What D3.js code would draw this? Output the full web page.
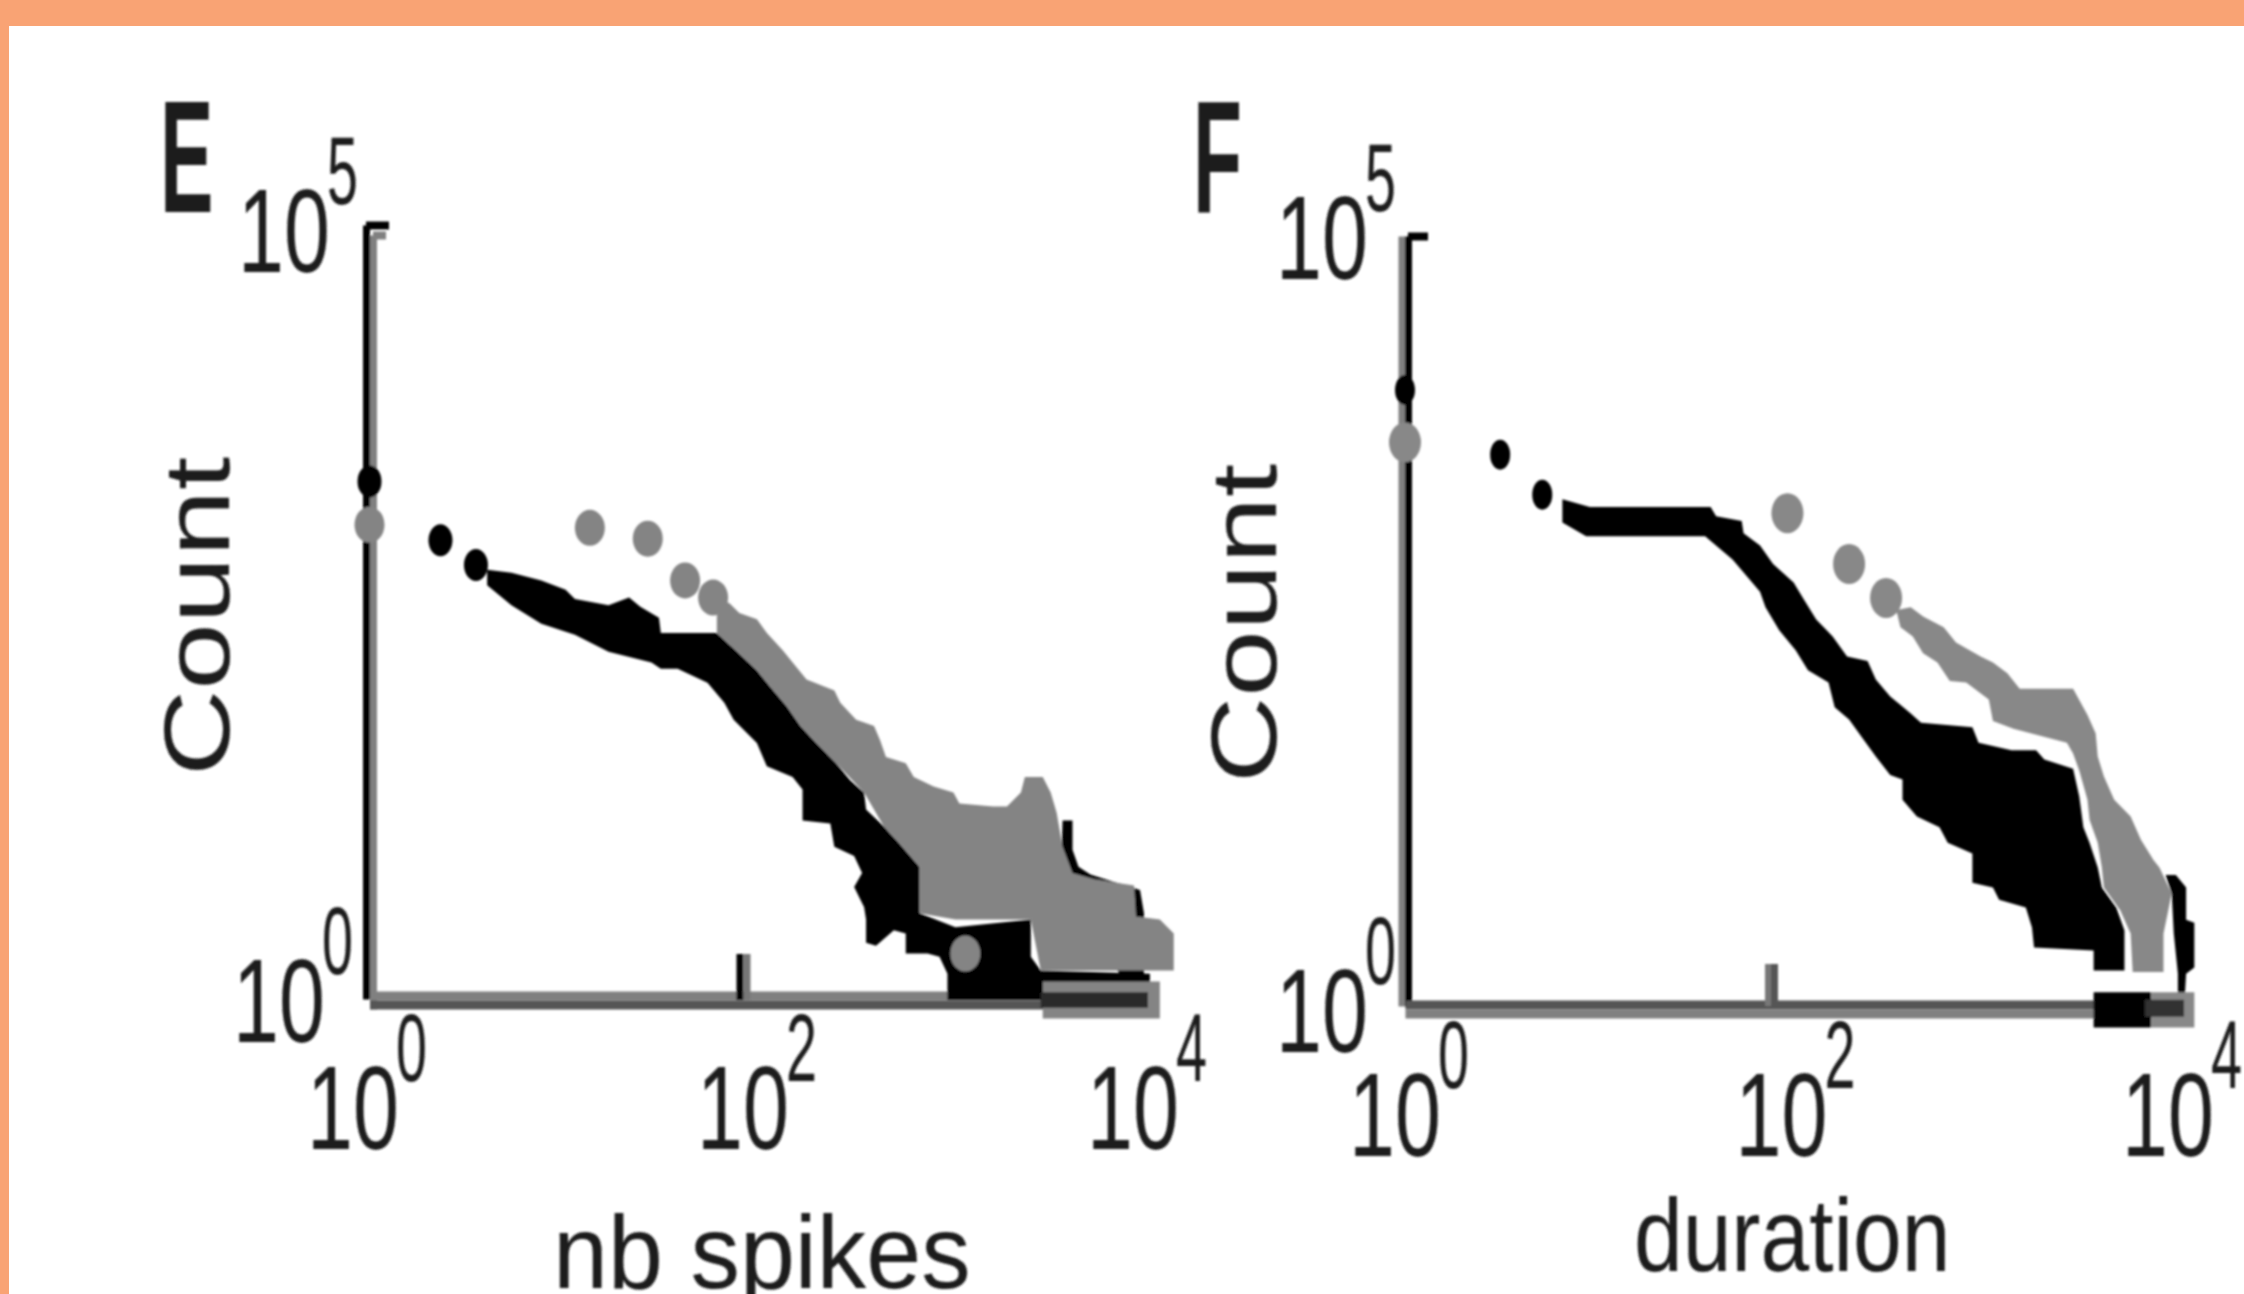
<!DOCTYPE html>
<html>
<head>
<meta charset="utf-8">
<script src="https://cdn.jsdelivr.net/npm/d3@7"></script>
<style>
html, body { margin: 0; padding: 0; background: #fff; overflow: hidden; }
svg { display: block; }
text { font-family: "Liberation Sans", sans-serif; fill: #1c1c1c; }
</style>
</head>
<body>
<svg width="2244" height="1294"></svg>
<script>
// all values are log10 of the axis value
var xTicks = [0, 2, 4];
var yTicks = [0, 5];

// panel E, nb spikes
var eBlackDotX = [0, 0.38, 0.57];
var eBlackDotY = [3.35, 2.97, 2.81];
var eGrayDotX = [0, 1.18, 1.49, 1.69, 1.84, 3.12];
var eGrayDotY = [3.07, 3.05, 2.98, 2.71, 2.60, 0.30];
var eBlackTopX = [0.63, 0.76, 0.92, 1.05, 1.10, 1.28, 1.39, 1.45, 1.55, 1.56, 1.86, 1.97, 2.07, 2.14, 2.22, 2.29, 2.37, 2.47, 2.54, 2.61, 2.62, 2.71, 2.79, 2.89, 2.89, 3.07, 3.45, 3.45, 3.50, 4.05, 4.05];
var eBlackTopY = [2.78, 2.76, 2.71, 2.65, 2.59, 2.55, 2.60, 2.54, 2.47, 2.37, 2.37, 2.25, 2.13, 2.02, 1.90, 1.77, 1.66, 1.53, 1.42, 1.34, 1.23, 1.12, 1.01, 0.86, 0.56, 0.47, 0.52, 0.28, 0.19, 0.17, 0];
var eBlackLowX = [0.63, 0.76, 0.92, 1.10, 1.28, 1.51, 1.56, 1.65, 1.81, 1.90, 1.95, 2.07, 2.12, 2.25, 2.30, 2.30, 2.44, 2.46, 2.56, 2.60, 2.56, 2.61, 2.62, 2.62, 2.67, 2.76, 2.82, 2.82, 2.93, 2.99, 3.03, 3.03];
var eBlackLowY = [2.68, 2.55, 2.43, 2.36, 2.25, 2.18, 2.14, 2.14, 2.05, 1.92, 1.81, 1.66, 1.51, 1.44, 1.36, 1.16, 1.14, 0.99, 0.93, 0.82, 0.73, 0.60, 0.52, 0.37, 0.35, 0.45, 0.43, 0.30, 0.30, 0.28, 0.17, 0];
var eBlackTailX = [3.61, 3.66, 3.66, 3.69, 3.75, 4.00, 4.02, 4.02, 3.98, 3.60];
var eBlackTailY = [1.16, 1.16, 0.97, 0.86, 0.81, 0.71, 0.56, 0, 0, 0.78];
var eGrayX = [1.86, 1.90, 1.93, 1.98, 2.07, 2.12, 2.20, 2.25, 2.32, 2.46, 2.49, 2.57, 2.66, 2.69, 2.72, 2.82, 2.86, 2.96, 3.06, 3.09, 3.26, 3.33, 3.40, 3.42, 3.51, 3.55, 3.58, 3.61, 3.66, 3.77, 3.97, 3.98, 4.10, 4.17, 4.17, 3.50, 3.45, 3.07, 2.89, 2.89, 2.79, 2.71, 2.61, 2.47, 2.37, 2.29, 2.22, 2.14, 2.07, 1.97, 1.86];
var eGrayY = [2.48, 2.58, 2.56, 2.50, 2.46, 2.37, 2.26, 2.18, 2.07, 2.00, 1.92, 1.81, 1.77, 1.68, 1.57, 1.53, 1.44, 1.38, 1.34, 1.27, 1.25, 1.25, 1.34, 1.44, 1.44, 1.34, 1.21, 0.99, 0.82, 0.78, 0.74, 0.54, 0.52, 0.43, 0.19, 0.19, 0.52, 0.52, 0.56, 0.86, 1.01, 1.12, 1.34, 1.53, 1.66, 1.77, 1.90, 2.02, 2.13, 2.25, 2.37];
var eGrayStripX = [3.51, 4.10, 4.10, 3.51];
var eGrayStripY = [0.12, 0.12, -0.12, -0.12];
var eDarkStripX = [3.50, 4.04, 4.04, 3.50];
var eDarkStripY = [0.05, 0.05, -0.05, -0.05];

// panel F, duration
var fBlackDotX = [0, 0.52, 0.75];
var fBlackDotY = [4.00, 3.58, 3.32];
var fGrayDotX = [0, 2.08, 2.38, 2.56];
var fGrayDotY = [3.66, 3.20, 2.87, 2.65];
var fBlackTopX = [0.86, 1.01, 1.31, 1.67, 1.70, 1.84, 1.85, 1.94, 2.01, 2.11, 2.16, 2.22, 2.30, 2.37, 2.47, 2.51, 2.58, 2.68, 2.73, 2.98, 3.01, 3.17, 3.29, 3.33, 3.47, 3.50, 3.52, 3.55, 3.59, 3.61, 3.68, 3.72, 3.72];
var fBlackTopY = [3.29, 3.24, 3.24, 3.24, 3.18, 3.15, 3.07, 2.99, 2.87, 2.75, 2.64, 2.51, 2.40, 2.27, 2.24, 2.12, 2.01, 1.90, 1.84, 1.81, 1.71, 1.66, 1.66, 1.60, 1.54, 1.36, 1.16, 1.06, 0.90, 0.77, 0.64, 0.49, 0.23];
var fBlackLowX = [0.86, 0.99, 1.64, 1.79, 1.94, 1.97, 2.04, 2.12, 2.18, 2.28, 2.31, 2.38, 2.45, 2.51, 2.58, 2.64, 2.64, 2.71, 2.82, 2.86, 2.98, 2.98, 3.08, 3.11, 3.24, 3.27, 3.28, 3.57, 3.57];
var fBlackLowY = [3.14, 3.05, 3.05, 2.90, 2.69, 2.59, 2.44, 2.31, 2.18, 2.10, 1.94, 1.86, 1.73, 1.62, 1.50, 1.47, 1.34, 1.23, 1.16, 1.06, 0.99, 0.80, 0.77, 0.69, 0.64, 0.51, 0.38, 0.36, 0.23];
var fBlackTailX = [3.92, 3.97, 4.02, 4.02, 4.06, 4.06, 4.02, 4.01, 3.98, 3.98, 3.96, 3.95];
var fBlackTailY = [0.85, 0.85, 0.77, 0.56, 0.54, 0.25, 0.21, -0.02, -0.02, 0.21, 0.47, 0.73];
var fGrayX = [2.61, 2.68, 2.74, 2.84, 2.90, 3.02, 3.08, 3.15, 3.21, 3.47, 3.54, 3.58, 3.59, 3.62, 3.67, 3.75, 3.80, 3.86, 3.89, 3.95, 3.91, 3.91, 3.76, 3.75, 3.70, 3.62, 3.61, 3.59, 3.55, 3.54, 3.50, 3.47, 3.44, 3.18, 3.08, 3.06, 2.95, 2.87, 2.81, 2.74, 2.69, 2.63];
var fGrayY = [2.57, 2.59, 2.53, 2.46, 2.36, 2.27, 2.23, 2.16, 2.06, 2.06, 1.89, 1.77, 1.62, 1.49, 1.34, 1.23, 1.08, 0.95, 0.90, 0.73, 0.47, 0.22, 0.22, 0.47, 0.62, 0.77, 0.90, 1.06, 1.21, 1.34, 1.53, 1.64, 1.71, 1.80, 1.85, 1.99, 2.10, 2.11, 2.23, 2.29, 2.40, 2.46];
var fBlackStripX = [3.57, 3.85, 3.85, 3.57];
var fBlackStripY = [0.09, 0.09, -0.14, -0.14];
var fGrayStripX = [3.85, 4.06, 4.06, 3.85];
var fGrayStripY = [0.09, 0.09, -0.14, -0.14];
var fDarkStripX = [3.82, 4.01, 4.01, 3.82];
var fDarkStripY = [0.04, 0.04, -0.07, -0.07];

var svg = d3.select("svg");
svg.append("rect").attr("width", 2244).attr("height", 1294).attr("fill", "#f9a374");
svg.append("rect").attr("x", 9).attr("y", 26).attr("width", 2235).attr("height", 1268).attr("fill", "#fff");

var defs = svg.append("defs");
defs.append("filter").attr("id", "soft").attr("x", 0).attr("y", 0)
    .attr("filterUnits", "userSpaceOnUse").attr("width", 2244).attr("height", 1294)
    .append("feGaussianBlur").attr("stdDeviation", 1.3);
var root = svg.append("g").attr("filter", "url(#soft)");

function zip(xs, ys) {
    return xs.map(function (d, i) { return [d, ys[i]]; });
}

function shape(x, y, pts, color) {
    var line = d3.line().x(function (d) { return x(d[0]); }).y(function (d) { return y(d[1]); });
    root.append("path").attr("d", line(pts) + "Z").attr("fill", color);
}

function dots(x, y, xs, ys, color, rx, ry) {
    root.append("g").selectAll("ellipse").data(zip(xs, ys)).join("ellipse")
        .attr("cx", function (d) { return x(d[0]); })
        .attr("cy", function (d) { return y(d[1]); })
        .attr("rx", rx).attr("ry", ry).attr("fill", color);
}

function xLayer(x, yPos, color, ticks, tickLen, dx, tickColor) {
    var g = root.append("g").attr("transform", "translate(" + dx + "," + yPos + ")")
        .call(d3.axisBottom(x).tickValues(ticks).tickFormat("").tickSizeInner(-tickLen).tickSizeOuter(0));
    g.select(".domain").attr("stroke", color).attr("stroke-width", 9);
    g.selectAll(".tick line").attr("stroke", tickColor).attr("stroke-width", 7);
}

function yLayer(y, xPos, dy, color, capLen) {
    var g = root.append("g").attr("transform", "translate(" + xPos + "," + dy + ")")
        .call(d3.axisLeft(y).tickValues([5]).tickFormat("").tickSizeInner(-capLen).tickSizeOuter(0));
    g.select(".domain").attr("stroke", color).attr("stroke-width", 7);
    g.selectAll(".tick line").attr("stroke", color).attr("stroke-width", 8);
}

function squeezed(str, px, py, size, sx, weight, rotate) {
    return root.append("text").text(str)
        .attr("font-size", size)
        .attr("font-weight", weight || "normal")
        .attr("transform", "translate(" + px + "," + py + ")" + (rotate ? " rotate(-90)" : "") + " scale(" + sx + ",1)");
}

function power(px, py, exp) {
    squeezed("10", px - 3, py, 118, 0.7);
    squeezed(String(exp), px + 86, py - 68, 96, 0.58);
}

// panel E
var xE = d3.scaleLinear().domain(xTicks).range([369.5, 743, 1140]);
var yE = d3.scaleLinear().domain(yTicks).range([1000, 226]);
var xLabelE = d3.scaleLinear().domain([0, 4]).range([310, 1090]);

yLayer(yE, 373, 9, "#808080", 13);
yLayer(yE, 366, -1, "#000", 23);
xLayer(xE, 995.5, "#808080", [], 0, 0, "#808080");
xLayer(xE, 1004.5, "#555", [], 0, 0, "#555");
xLayer(xE, 1000, "none", [2], 46, -3.5, "#000");
xLayer(xE, 1000, "none", [2], 46, 3.5, "#777");
xLayer(xE, 1000, "none", [4], 46, -1, "#000");

shape(xE, yE, zip(eBlackTailX, eBlackTailY), "#000");
shape(xE, yE, zip(eBlackTopX, eBlackTopY).concat(zip(eBlackLowX, eBlackLowY).reverse()), "#000");
shape(xE, yE, zip(eGrayX, eGrayY), "#848484");
shape(xE, yE, zip(eGrayStripX, eGrayStripY), "#848484");
shape(xE, yE, zip(eDarkStripX, eDarkStripY), "#2a2a2a");
dots(xE, yE, eGrayDotX, eGrayDotY, "#848484", 15, 18);
dots(xE, yE, eBlackDotX, eBlackDotY, "#000", 12, 16);

xTicks.forEach(function (d) { power(xLabelE(d), 1149, d); });
power(241, yE(5) + 46, 5);
power(236, yE(0) + 42, 0);
squeezed("E", 160, 212, 160, 0.5, "bold");
squeezed("Count", 229, 776, 92, 1.3, "normal", true);
squeezed("nb spikes", 553, 1288, 103, 0.96);

// panel F
var xF = d3.scaleLinear().domain(xTicks).range([1405, 1771, 2182]);
var yF = d3.scaleLinear().domain(yTicks).range([1006, 236]);
var xLabelF = d3.scaleLinear().domain([0, 4]).range([1352, 2125]);

yLayer(yF, 1401.5, 0, "#808080", 0);
yLayer(yF, 1408, 0, "#000", 20);
xLayer(xF, 1004.5, "#555", [], 0, 0, "#555");
xLayer(xF, 1013.5, "#808080", [], 0, 0, "#808080");
xLayer(xF, 1006, "none", [2], 42, -3, "#777");
xLayer(xF, 1006, "none", [2], 42, 3, "#555");

shape(xF, yF, zip(fGrayX, fGrayY), "#888");
shape(xF, yF, zip(fBlackTailX, fBlackTailY), "#000");
shape(xF, yF, zip(fBlackTopX, fBlackTopY).concat(zip(fBlackLowX, fBlackLowY).reverse()), "#000");
shape(xF, yF, zip(fBlackStripX, fBlackStripY), "#000");
shape(xF, yF, zip(fGrayStripX, fGrayStripY), "#888");
shape(xF, yF, zip(fDarkStripX, fDarkStripY), "#333");
dots(xF, yF, fGrayDotX, fGrayDotY, "#888", 16, 20);
dots(xF, yF, fBlackDotX, fBlackDotY, "#000", 10, 15);

xTicks.forEach(function (d) { power(xLabelF(d), 1156, d); });
power(1279, yF(5) + 43, 5);
power(1279, yF(0) + 46, 0);
squeezed("F", 1193, 212, 160, 0.5, "bold");
squeezed("Count", 1276, 783, 92, 1.3, "normal", true);
squeezed("duration", 1634, 1271, 103, 0.85);
</script>
</body>
</html>
